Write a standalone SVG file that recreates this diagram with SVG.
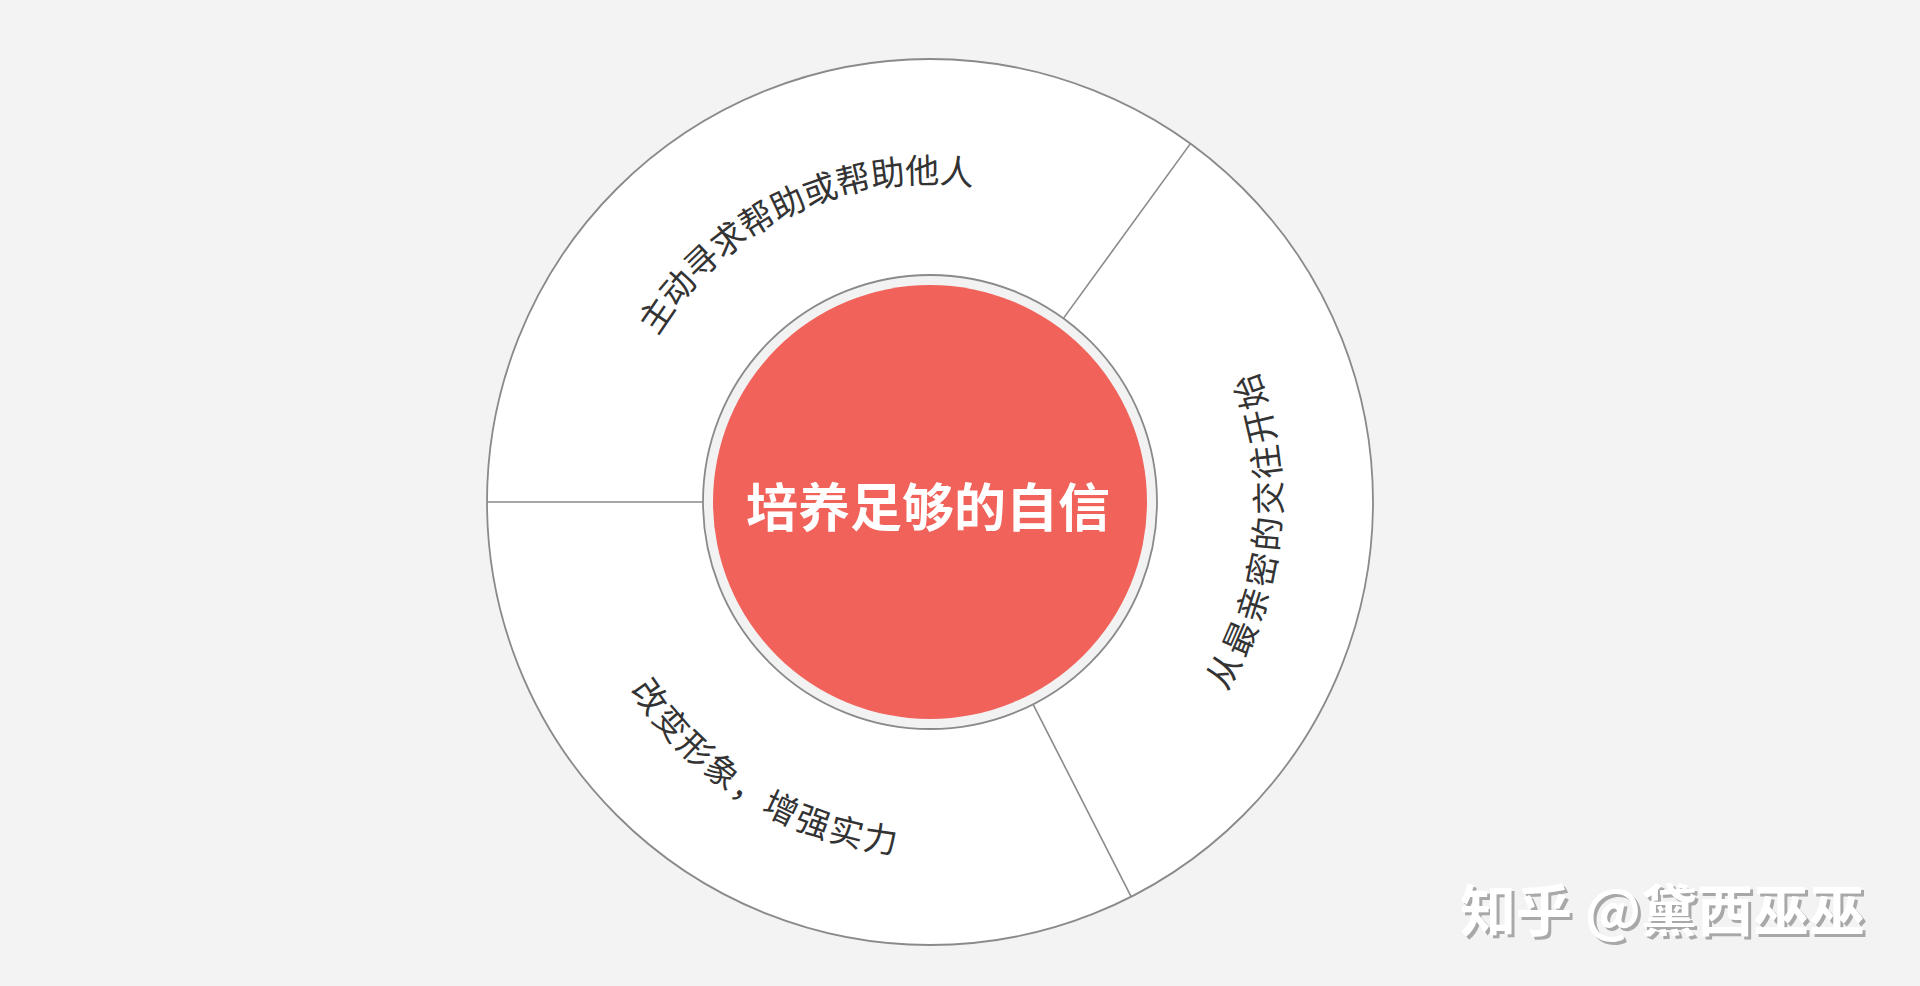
<svg xmlns="http://www.w3.org/2000/svg" xmlns:xlink="http://www.w3.org/1999/xlink" width="1920" height="986" viewBox="0 0 1920 986">
  <style>
    .arc { font-family: "Noto Sans CJK SC", "Noto Sans", sans-serif; font-size: 34px; fill: #333333; }
    .div { stroke: #8a8a8a; stroke-width: 1.6; fill: none; }
    .wm { font-family: "Noto Sans CJK SC", "Noto Sans", sans-serif; font-size: 56px; font-weight: bold; }
  </style>
  <defs>
    <path id="pTop" d="M611.9,477.0 A319,319 0 0 1 1110.7,239.1"/>
    <path id="pRight" d="M1077.5,820.5 A351,351 0 0 0 1132.1,214.8"/>
    <path id="pBottom" d="M577.1,492.1 A353,353 0 0 0 1097.9,812.5"/>
  </defs>
  <rect x="0" y="0" width="1920" height="986" fill="#f3f3f3"/>

  <g id="outer-ring">
    <circle cx="930" cy="502" r="443" fill="#ffffff" stroke="#8a8a8a" stroke-width="1.8"/>
  </g>

  <g id="connectors">
    <line class="div" x1="487" y1="502" x2="703" y2="502"/>
    <line class="div" x1="1063.4" y1="318.4" x2="1190.4" y2="143.6"/>
    <line class="div" x1="1033.1" y1="704.3" x2="1131.1" y2="896.7"/>
  </g>

  <g id="node-top">
    <text class="arc" letter-spacing="-0.4"><textPath href="#pTop" xlink:href="#pTop" startOffset="50%" text-anchor="middle">主动寻求帮助或帮助他人</textPath></text>
  </g>
  <g id="node-right">
    <text class="arc" letter-spacing="3.4"><textPath href="#pRight" xlink:href="#pRight" startOffset="50%" text-anchor="middle">从最亲密的交往开始</textPath></text>
  </g>
  <g id="node-bottom">
    <text class="arc" letter-spacing="2.1"><textPath href="#pBottom" xlink:href="#pBottom" startOffset="50%" text-anchor="middle">改变形象，增强实力</textPath></text>
  </g>

  <g id="node-center">
    <circle cx="930" cy="502" r="227" fill="#f2f2f2" stroke="#8a8a8a" stroke-width="1.8"/>
    <circle cx="930" cy="502" r="217" fill="#f0625a"/>
    <text x="928" y="504" dominant-baseline="central" text-anchor="middle" font-family="Noto Sans CJK SC, Noto Sans, sans-serif" font-size="52" font-weight="bold" fill="#ffffff">培养足够的自信</text>
  </g>

  <g id="watermark">
    <text class="wm" x="1463" y="909" dominant-baseline="central" fill="#a8a8a8">知乎 @黛西巫巫</text>
    <text class="wm" x="1460" y="906" dominant-baseline="central" fill="#ffffff">知乎 @黛西巫巫</text>
  </g>
</svg>
